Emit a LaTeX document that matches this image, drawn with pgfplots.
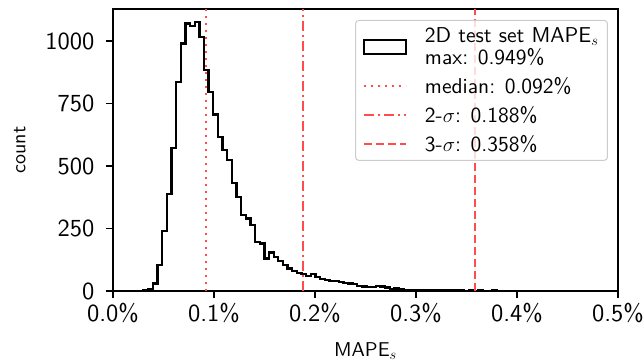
\documentclass[border=0pt]{standalone}
\usepackage{fontspec}
\setmainfont{lmsans10-regular.otf}[BoldFont=lmsans10-bold.otf, ItalicFont=lmsans10-oblique.otf]
\usepackage{pgfplots}
\pgfplotsset{compat=1.18}
\definecolor{vred}{RGB}{255,77,77}
\definecolor{lgray}{RGB}{204,204,204}
\pgfplotsset{
  histleg/.style={legend image code/.code={\draw[black, line width=2.3pt, sharp corners] (0pt,-7pt) rectangle (42pt,7pt);}},
  lineleg/.style={legend image code/.code={\draw[##1, sharp corners] (0pt,0pt) -- (42pt,0pt);}},
}
\begin{document}
\begin{tikzpicture}
\begin{axis}[
  scale only axis, width=505pt, height=282pt,
  xmin=0, xmax=0.5, ymin=0, ymax=1128,
  xtick={0,0.1,0.2,0.3,0.4,0.5},
  xticklabels={0.0\%,0.1\%,0.2\%,0.3\%,0.4\%,0.5\%},
  ytick={0,250,500,750,1000},
  yticklabels={0,250,500,750,1000},
  tick pos=left, tick align=outside, major tick length=7pt,
  every tick/.style={black, line width=1.2pt},
  axis line style={line width=1.1pt},
  xticklabel style={font=\fontsize{24.5}{25}\selectfont, yshift=-2pt},
  yticklabel style={font=\fontsize{24.5}{25}\selectfont, xshift=-8pt},
  xlabel={\fontsize{20}{21}\selectfont MAPE$_s$},
  ylabel={\fontsize{20}{21}\selectfont count},
  xlabel shift=12pt, ylabel shift=13pt,
  legend style={at={(rel axis cs:0.98,0.961)}, anchor=north east,
    draw=lgray, line width=1pt, rounded corners=3pt,
    fill=white, fill opacity=0.8, text opacity=1, draw opacity=1,
    font=\fontsize{21.5}{22}\selectfont,
    cells={anchor=west, align=left, inner xsep=0pt, inner ysep=2pt},
    column sep=16pt, row sep=7.5pt,
    inner xsep=7pt, inner ysep=5pt},
  legend cell align=left,
]
\addplot[const plot, black, line width=2.3pt, histleg]
coordinates {
(0.0303,0) (0.0303,2) (0.0349,6) (0.0395,30) (0.0441,105) (0.0487,239)
(0.0533,387) (0.0579,573) (0.0625,836) (0.0671,990) (0.0717,1070)
(0.0763,1060) (0.0809,1076) (0.0855,1016) (0.0901,883) (0.0947,796)
(0.0993,706) (0.1039,616) (0.1085,563) (0.1131,523) (0.1177,433)
(0.1223,376) (0.1269,303) (0.1315,290) (0.1361,263) (0.1407,196)
(0.1453,190) (0.1499,130) (0.1545,154) (0.1591,136) (0.1637,120)
(0.1683,103) (0.1729,90) (0.1775,80) (0.1821,72) (0.1867,67)
(0.1913,59) (0.1959,67) (0.2005,56) (0.2051,47) (0.2097,43)
(0.2143,40) (0.2189,40) (0.2235,36) (0.2281,32) (0.2327,30)
(0.2373,28) (0.2419,20) (0.2465,18) (0.2511,16) (0.2557,16)
(0.2603,20) (0.2649,18) (0.2695,14) (0.2741,8) (0.2787,10)
(0.2833,7) (0.2879,5) (0.2925,4) (0.2971,3) (0.3017,4)
(0.3063,3) (0.3109,4) (0.3155,3) (0.3201,2) (0.3247,3)
(0.3293,3) (0.3339,2) (0.3385,2) (0.3431,3) (0.3477,1)
(0.3523,2) (0.3569,1) (0.3615,2) (0.3661,1) (0.3707,1)
(0.3753,2) (0.3799,1) (0.3845,0) (0.3891,1) (0.3937,1)
(0.3983,0) (0.4029,1) (0.4075,1) (0.4121,0) (0.4167,1)
(0.4213,0) (0.4259,0) (0.4305,1) (0.4351,0) (0.4397,0)
(0.4443,1) (0.4489,0) (0.4535,0) (0.4581,0) (0.4627,1)
(0.4673,0) (0.4719,0) (0.4765,0) (0.4811,0) (0.4857,1)
(0.4903,0) (0.4949,0) (0.4995,0) (0.5041,0)
};
\addlegendentry{2D test set MAPE$_s$\\max: 0.949\%}
\addplot[vred, line width=2pt, dash pattern=on 2pt off 5pt, lineleg]
  coordinates {(0.092,0) (0.092,1128)};
\addlegendentry{median: 0.092\%}
\addplot[vred, line width=2pt, dash pattern=on 10pt off 4pt on 2pt off 4pt, lineleg]
  coordinates {(0.188,0) (0.188,1128)};
\addlegendentry{2-$\sigma$: 0.188\%}
\addplot[vred, line width=2pt, dash pattern=on 8pt off 4pt, lineleg]
  coordinates {(0.358,0) (0.358,1128)};
\addlegendentry{3-$\sigma$: 0.358\%}
\coordinate (sw) at (rel axis cs:0,0);
\end{axis}
\pgfresetboundingbox
\path[use as bounding box] (sw) ++(-113pt,-71pt) rectangle ++(644pt,362pt);
\end{tikzpicture}
\end{document}
